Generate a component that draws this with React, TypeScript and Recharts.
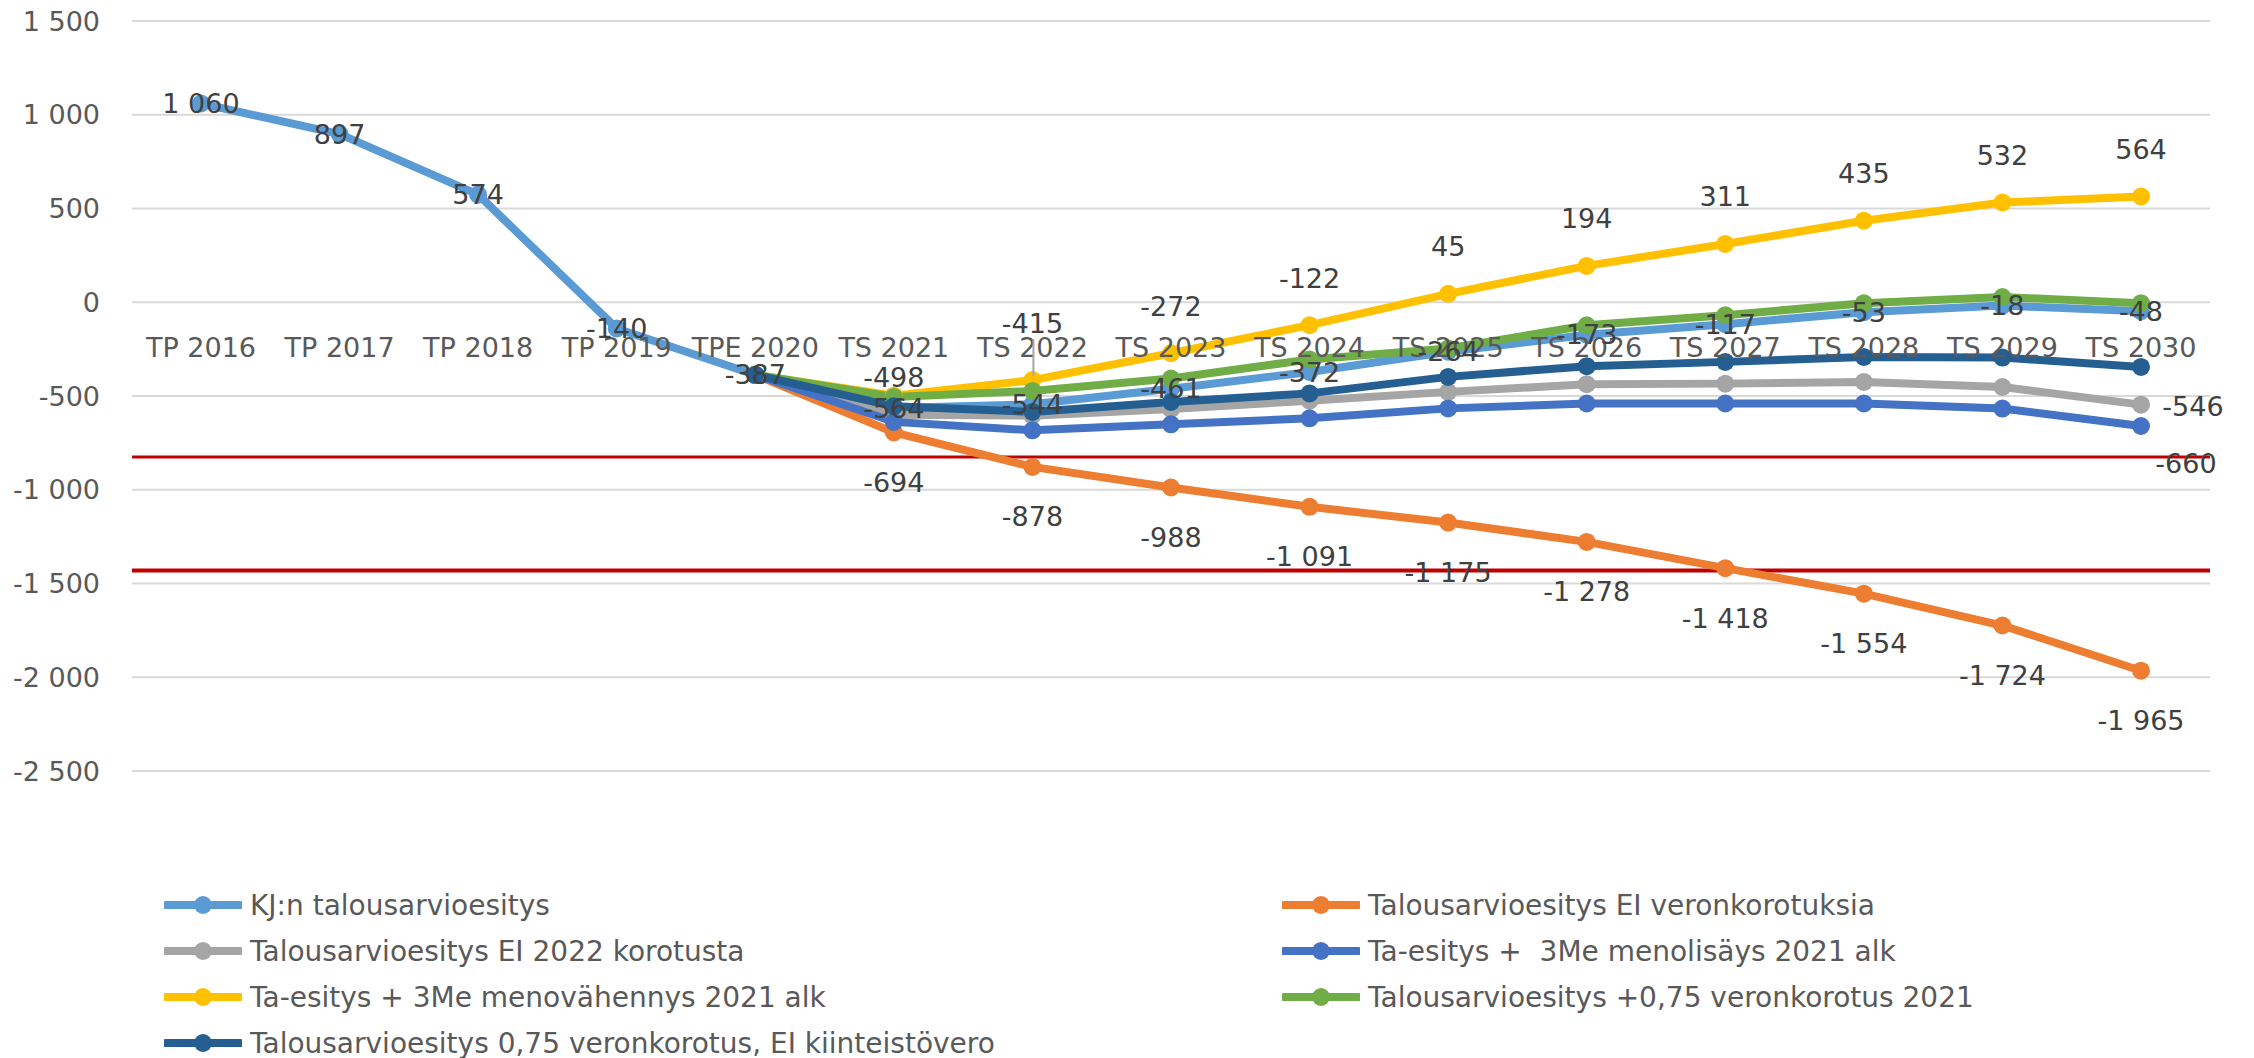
import React from "react";
import { LineChart, Line, XAxis, YAxis, CartesianGrid, ReferenceLine } from "recharts";

const categories = [
  "TP 2016", "TP 2017", "TP 2018", "TP 2019", "TPE 2020",
  "TS 2021", "TS 2022", "TS 2023", "TS 2024", "TS 2025",
  "TS 2026", "TS 2027", "TS 2028", "TS 2029", "TS 2030",
];

const kjEsitys = [1060, 897, 574, -140, -387, -564, -544, -461, -372, -264, -173, -117, -53, -18, -48];
const eiVeronkorotuksia = [null, null, null, null, -387, -694, -878, -988, -1091, -1175, -1278, -1418, -1554, -1724, -1965];
const ei2022Korotusta = [null, null, null, null, -387, -600, -605, -570, -525, -478, -437, -434, -425, -452, -546];
const menolisays = [null, null, null, null, -387, -638, -683, -651, -619, -566, -540, -540, -540, -567, -660];
const menovahennys = [null, null, null, null, -387, -498, -415, -272, -122, 45, 194, 311, 435, 532, 564];
const veronkorotus075 = [null, null, null, null, -387, -505, -473, -407, -305, -247, -123, -69, -5, 28, -5];
const eiKiinteistovero = [null, null, null, null, -387, -555, -585, -532, -486, -398, -341, -318, -292, -295, -345];

const yTicks = [1500, 1000, 500, 0, -500, -1000, -1500, -2000, -2500];
const limitLines = [-825, -1430];

type LabelMode = "center" | "top" | "bottom" | "lastRight" | "lastBelow";

const series: { key: string; name: string; color: string; values: (number | null)[]; label: LabelMode }[] = [
  { key: "kj", name: "KJ:n talousarvioesitys", color: "#5B9BD5", values: kjEsitys, label: "center" },
  { key: "eiVero", name: "Talousarvioesitys EI veronkorotuksia", color: "#ED7D31", values: eiVeronkorotuksia, label: "bottom" },
  { key: "ei2022", name: "Talousarvioesitys EI 2022 korotusta", color: "#A5A5A5", values: ei2022Korotusta, label: "lastRight" },
  { key: "lisays", name: "Ta-esitys +  3Me menolisäys 2021 alk", color: "#4472C4", values: menolisays, label: "lastBelow" },
  { key: "vahennys", name: "Ta-esitys + 3Me menovähennys 2021 alk", color: "#FFC000", values: menovahennys, label: "top" },
  { key: "vero075", name: "Talousarvioesitys +0,75 veronkorotus 2021", color: "#70AD47", values: veronkorotus075, label: "top" },
  { key: "kiinteisto", name: "Talousarvioesitys 0,75 veronkorotus, EI kiinteistövero", color: "#255E91", values: eiKiinteistovero, label: "top" },
];

const data = categories.map((name, i) => {
  const row: Record<string, any> = { name };
  series.forEach((s) => (row[s.key] = s.values[i]));
  return row;
});

const fmt = (v: number) => {
  const abs = Math.abs(v).toString().replace(/\B(?=(\d{3})+(?!\d))/g, " ");
  return (v < 0 ? "-" : "") + abs;
};

const FONT = "'DejaVu Sans', sans-serif";
const W = 2254;
const H = 790;
const TOP = 21;
const PLOT_H = 750;
const zeroY = TOP + (1500 / 4000) * PLOT_H;

// label shifts that Excel had moved by hand
const topOffsets: Record<number, number> = { 5: -18, 6: -57 };

const makeLabel = (mode: LabelMode, key: string) => (props: any) => {
  const { x, y, value, index } = props;
  if (value == null || x == null || y == null) return null;
  const last = categories.length - 1;
  let dx = 0;
  let dy = 0;
  let leader = false;
  if (mode === "top") {
    if (key !== "vahennys" || index <= 4) return null;
    dy = topOffsets[index] ?? -47;
    leader = index === 6;
  } else if (mode === "bottom") {
    if (index <= 4) return null;
    dy = 50;
  } else if (mode === "lastRight") {
    if (index !== last) return null;
    dx = 52;
    dy = 2;
  } else if (mode === "lastBelow") {
    if (index !== last) return null;
    dx = 45;
    dy = 37;
  }
  return (
    <g key={`${key}-${index}`}>
      {leader && <line x1={x + 1} y1={y + dy + 16} x2={x + 1} y2={y - 4} stroke="#A6A6A6" strokeWidth={2} />}
      <text
        x={x + dx}
        y={y + dy}
        textAnchor="middle"
        dominantBaseline="central"
        fill="#404040"
        fontSize={27}
        fontFamily={FONT}
      >
        {fmt(value)}
      </text>
    </g>
  );
};

const CategoryTick = (props: any) => {
  const { x, payload } = props;
  return (
    <text x={x} y={zeroY + 45} textAnchor="middle" dominantBaseline="central" fill="#595959" fontSize={27} fontFamily={FONT}>
      {payload.value}
    </text>
  );
};

const LegendMarker = ({ color }: { color: string }) => (
  <svg width={78} height={22} style={{ display: "block" }}>
    <line x1={2} y1={11} x2={76} y2={11} stroke={color} strokeWidth={8} strokeLinecap="round" />
    <circle cx={39} cy={11} r={9} fill={color} />
  </svg>
);

const App = () => {
  return (
    <div style={{ position: "relative", width: W, height: 1058, margin: "-8px 0 0 -8px", fontFamily: FONT, background: "#fff" }}>
      <LineChart width={W} height={H} data={data} margin={{ top: TOP, right: 44, left: 0, bottom: 18 }}>
        <CartesianGrid vertical={false} stroke="#D9D9D9" strokeWidth={2} />
        <XAxis
          dataKey="name"
          height={1}
          axisLine={false}
          tickLine={false}
          interval={0}
          padding={{ left: 69, right: 69 }}
          tick={<CategoryTick />}
        />
        <YAxis
          width={132}
          domain={[-2500, 1500]}
          ticks={yTicks}
          tickFormatter={fmt}
          axisLine={false}
          tickLine={false}
          tickSize={0}
          tickMargin={32}
          tick={{ fill: "#595959", fontSize: 27, fontFamily: FONT }}
          interval={0}
        />
        {limitLines.map((v, i) => (
          <ReferenceLine key={`ref-${i}`} y={v} stroke="#C00000" strokeWidth={i === 0 ? 3 : 4} />
        ))}
        {series.map((s) => (
          <Line
            key={s.key}
            type="linear"
            dataKey={s.key}
            name={s.name}
            stroke={s.color}
            strokeWidth={8}
            dot={{ r: 9, fill: s.color, stroke: s.color, strokeWidth: 0 }}
            activeDot={false}
            isAnimationActive={false}
            label={makeLabel(s.label, s.key)}
          />
        ))}
      </LineChart>
      {series.map((s, i) => {
        const col = i % 2;
        const row = Math.floor(i / 2);
        return (
          <div
            key={`leg-${s.key}`}
            style={{
              position: "absolute",
              left: col === 0 ? 164 : 1282,
              top: 885 + row * 46,
              height: 40,
              display: "flex",
              alignItems: "center",
              whiteSpace: "pre",
              fontSize: 28,
              color: "#595959",
            }}
          >
            <LegendMarker color={s.color} />
            <span style={{ marginLeft: 8 }}>{s.name}</span>
          </div>
        );
      })}
    </div>
  );
};

export default App;
